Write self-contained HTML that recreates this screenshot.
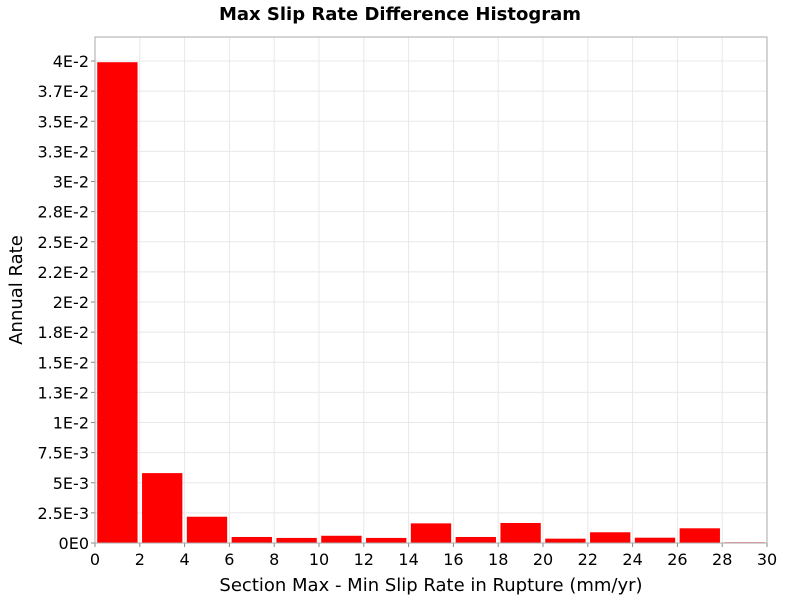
<!DOCTYPE html>
<html><head><meta charset="utf-8"><style>
body{margin:0;background:#fff;font-family:"Liberation Sans","DejaVu Sans",sans-serif}
</style></head><body>
<svg id="chart" width="800" height="600" xmlns="http://www.w3.org/2000/svg">
<text x="400" y="20" text-anchor="middle" font-family="DejaVu Sans,sans-serif" font-weight="bold" font-size="18">Max Slip Rate Difference Histogram</text>
<g id="grid"></g><g id="bars"></g><g id="axes"></g>
<text x="431" y="591" text-anchor="middle" font-family="DejaVu Sans,sans-serif" font-size="18">Section Max - Min Slip Rate in Rupture (mm/yr)</text>
<text transform="translate(22,290) rotate(-90)" text-anchor="middle" font-family="DejaVu Sans,sans-serif" font-size="18">Annual Rate</text>
</svg>
<script>
const binStarts=[0,2,4,6,8,10,12,14,16,18,20,22,24,26,28];
const rates=[0.0399,0.0058,0.00218,0.0005,0.00042,0.0006,0.00042,0.00163,0.0005,0.00166,0.00036,0.00089,0.00044,0.00122,0.00006];
const yTickVals=[0,0.0025,0.005,0.0075,0.01,0.0125,0.015,0.0175,0.02,0.0225,0.025,0.0275,0.03,0.0325,0.035,0.0375,0.04];
const yTickLabels=["0E0","2.5E-3","5E-3","7.5E-3","1E-2","1.3E-2","1.5E-2","1.8E-2","2E-2","2.2E-2","2.5E-2","2.8E-2","3E-2","3.3E-2","3.5E-2","3.7E-2","4E-2"];
const xTickVals=[0,2,4,6,8,10,12,14,16,18,20,22,24,26,28,30];
const binWidth=2;
const L=95,R=767,T=37,B=543;
const xs=v=>L+(v/30)*(R-L);
const ys=v=>B-(v/0.04)*(543-61);
const NS="http://www.w3.org/2000/svg";
function mk(tag,attrs,parent){const e=document.createElementNS(NS,tag);for(const k in attrs)e.setAttribute(k,attrs[k]);parent.appendChild(e);return e;}
const grid=document.getElementById('grid'),bars=document.getElementById('bars'),axes=document.getElementById('axes');
yTickVals.forEach((v,i)=>{
 const l=mk('line',{x1:L,x2:R,y1:ys(v),y2:ys(v),stroke:'#e8e8e8'},grid);
 
 
 const t=mk('text',{x:L-6,y:ys(v)+6,'text-anchor':'end','font-size':'16','font-family':'DejaVu Sans,sans-serif'},axes);
 t.textContent=yTickLabels[i];
 
 
 mk('line',{x1:L-4,x2:L,y1:ys(v),y2:ys(v),stroke:'#888'},axes);
});
xTickVals.forEach(v=>{
 const l=mk('line',{x1:xs(v),x2:xs(v),y1:T,y2:B,stroke:'#e8e8e8'},grid);
 
 
 const t=mk('text',{x:xs(v),y:B+22,'text-anchor':'middle','font-size':'16','font-family':'DejaVu Sans,sans-serif'},axes);
 t.textContent=v;
 
 
 mk('line',{x1:xs(v),x2:xs(v),y1:B,y2:B+4,stroke:'#888'},axes);
});
binStarts.forEach((s,i)=>{
 const c=s+binWidth/2,hw=binWidth*0.45;
 const r=mk('rect',{x:xs(c-hw),y:ys(rates[i]),width:xs(c+hw)-xs(c-hw),height:B-ys(rates[i]),fill:'#ff0000'},bars);
 
 
});
const f=mk('rect',{x:L,y:T,width:R-L,height:B-T,fill:'none',stroke:'#aaa'},axes);


</script>
</body></html>
